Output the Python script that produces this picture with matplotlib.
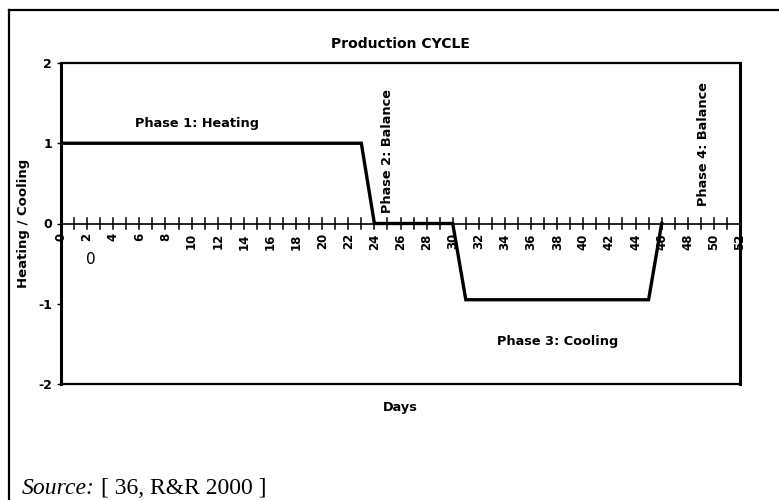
import matplotlib.pyplot as plt
from matplotlib.lines import Line2D

# production cycle profile (days vs. heating / cooling level)
days  = [0, 23, 24, 30, 31, 45, 46]
level = [1, 1, 0, 0, -0.95, -0.95, 0]

x_ticks = list(range(0, 53, 2))
y_ticks = [-2, -1, 0, 1, 2]

fig = plt.figure(figsize=(7.79, 5.0), dpi=100)
ax = fig.add_axes([61 / 779, 1 - 384 / 500, (740 - 61) / 779, (384 - 63) / 500])

ax.plot(days, level, color="black", lw=2.4, solid_joinstyle="miter")

ax.set_xlim(0, 52)
ax.set_ylim(-2, 2)

# spines: heavy frame, x axis sits on the zero line
for side in ["left", "right"]:
    ax.spines[side].set_linewidth(2.2)
ax.spines["top"].set_linewidth(1.6)
ax.spines["bottom"].set_linewidth(1.6)
ax.axhline(0, color="black", lw=1.2, zorder=1)

ax.set_yticks(y_ticks)
ax.set_yticklabels([str(v) for v in y_ticks], fontsize=9, fontweight="bold")
ax.tick_params(axis="y", length=3, width=1)

# day ticks drawn across the zero line instead of along the bottom spine
ax.set_xticks([])
for d in range(0, 53):
    ax.plot([d, d], [-0.07, 0.07], color="black", lw=1.1, clip_on=False)
for d in x_ticks:
    ax.text(d, -0.12, str(d), rotation=90, ha="center", va="top",
            fontsize=8.5, fontweight="bold")

ax.text(2.3, -0.45, "0", fontsize=11, ha="center", va="center")

ax.text(10.4, 1.24, "Phase 1: Heating", fontsize=9.3, fontweight="bold",
        ha="center", va="center")
ax.text(25.0, 0.9, "Phase 2: Balance", fontsize=9.3, fontweight="bold",
        rotation=90, ha="center", va="center")
ax.text(38.0, -1.47, "Phase 3: Cooling", fontsize=9.3, fontweight="bold",
        ha="center", va="center")
ax.text(49.2, 0.99, "Phase 4: Balance", fontsize=9.3, fontweight="bold",
        rotation=90, ha="center", va="center")

ax.set_title("Production CYCLE", fontsize=10, fontweight="bold", pad=11)
ax.set_xlabel("Days", fontsize=9.3, fontweight="bold", labelpad=12)
ax.set_ylabel("Heating / Cooling", fontsize=9.5, fontweight="bold", labelpad=6)

# page frame (top and left edges)
fig.add_artist(Line2D([9 / 779, 1], [1 - 10 / 500] * 2, color="black", lw=1.6,
                      transform=fig.transFigure))
fig.add_artist(Line2D([9 / 779] * 2, [0, 1 - 10 / 500], color="black", lw=1.6,
                      transform=fig.transFigure))

src = fig.text(22 / 779, 1 - 494 / 500, "Source:", family="Liberation Serif",
               style="italic", fontsize=17, va="baseline")
fig.canvas.draw()
x_end = src.get_window_extent().x1 / fig.bbox.width
fig.text(x_end + 0.008, 1 - 494 / 500, "[ 36, R&R 2000 ]",
         family="Liberation Serif", fontsize=17, va="baseline")

fig.savefig("out.png", dpi=100)
